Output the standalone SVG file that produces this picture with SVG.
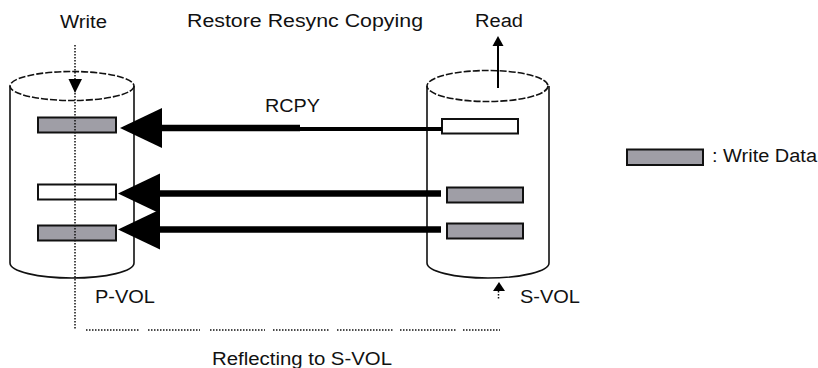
<svg xmlns="http://www.w3.org/2000/svg" width="818" height="368" viewBox="0 0 818 368">
<style>
text{font-family:"Liberation Sans",Arial,sans-serif;font-size:18px;fill:#111}
.cyl{fill:none;stroke:#111;stroke-width:1.6}
.top{fill:none;stroke:#111;stroke-width:1.6;stroke-dasharray:7 2}
.gray{fill:#9f9ea6;stroke:#111;stroke-width:2}
.white{fill:#fff;stroke:#111;stroke-width:2}
.dot{fill:none;stroke:#111;stroke-width:1.5;stroke-dasharray:1.5 1.5}
.arrow{stroke:#000;stroke-width:6.5;fill:none;marker-end:url(#head)}
</style>
<defs>
<marker id="head" markerUnits="userSpaceOnUse" markerWidth="44" markerHeight="42" viewBox="0 0 44 42" refX="0" refY="21" orient="auto">
<path d="M0,1 L42,21 L0,41 Z" fill="#000"/>
</marker>
</defs>
<rect width="818" height="368" fill="#fff"/>

<g id="p-vol">
<ellipse class="top" cx="72" cy="86" rx="62" ry="14.5"/>
<path class="cyl" d="M10,86 V263 A62,15 0 0 0 134,263 V86"/>
<rect class="gray" x="38" y="117.5" width="78" height="15"/>
<rect class="white" x="38" y="184.5" width="78" height="15"/>
<rect class="gray" x="38" y="225.5" width="78" height="15"/>
<text x="95" y="303" textLength="60" lengthAdjust="spacingAndGlyphs">P-VOL</text>
</g>

<g id="s-vol">
<ellipse class="top" cx="487.5" cy="86" rx="60.5" ry="15.5"/>
<path class="cyl" d="M427,86 V263 A61,15 0 0 0 549,263 V86"/>
<rect class="white" x="442" y="119" width="76" height="14.5"/>
<rect class="gray" x="447" y="187.5" width="76" height="15"/>
<rect class="gray" x="447" y="223.5" width="76" height="15"/>
<text x="520" y="303" textLength="60" lengthAdjust="spacingAndGlyphs">S-VOL</text>
</g>

<g id="write">
<text x="60" y="28" textLength="47" lengthAdjust="spacingAndGlyphs">Write</text>
<line class="dot" x1="75" y1="45" x2="75" y2="330"/>
<polygon points="68.5,79 82,79 75,93" fill="#000"/>
</g>

<g id="read">
<text x="475" y="27" textLength="48" lengthAdjust="spacingAndGlyphs">Read</text>
<line x1="498" y1="88" x2="498" y2="44" stroke="#000" stroke-width="2"/>
<polygon points="498,36 492.5,46 503.5,46" fill="#000"/>
</g>

<g id="title">
<text x="187" y="27" textLength="236" lengthAdjust="spacingAndGlyphs">Restore Resync Copying</text>
</g>

<g id="s-vol-marker">
<polygon points="499,282 493,291 505,291" fill="#000"/>
<line class="dot" x1="498.5" y1="291" x2="498.5" y2="300"/>
</g>

<g id="reflecting">
<path class="dot" d="M86,330 H140 M148,330 H200 M210,330 H265 M273,330 H330 M337,330 H393 M400,330 H457 M463,330 H500"/>
<text x="212" y="365" textLength="180" lengthAdjust="spacingAndGlyphs">Reflecting to S-VOL</text>
</g>

<g id="legend">
<rect class="gray" x="627" y="149.5" width="76" height="15.5"/>
<text x="712" y="162" textLength="105" lengthAdjust="spacingAndGlyphs">: Write Data</text>
</g>

<g id="connectors">
<line x1="442" y1="129" x2="298" y2="129" stroke="#000" stroke-width="4"/>
<line class="arrow" x1="300" y1="128" x2="162" y2="128"/>
<line class="arrow" x1="441" y1="193.5" x2="160" y2="193.5"/>
<line class="arrow" x1="441" y1="229.5" x2="160" y2="229.5"/>
<text x="265" y="112" textLength="55" lengthAdjust="spacingAndGlyphs">RCPY</text>
</g>
</svg>
